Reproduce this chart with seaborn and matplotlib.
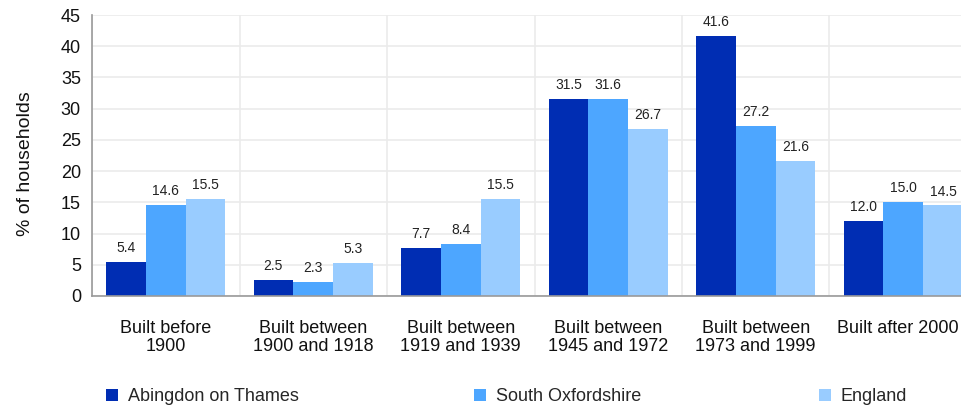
import matplotlib
matplotlib.use("Agg")
import matplotlib.pyplot as plt
import matplotlib.transforms as mtransforms
import seaborn as sns
import pandas as pd
import numpy as np
from matplotlib.patches import Patch

categories = ["Built before\n1900", "Built between\n1900 and 1918", "Built between\n1919 and 1939",
              "Built between\n1945 and 1972", "Built between\n1973 and 1999", "Built after 2000"]
series = ["Abingdon on Thames", "South Oxfordshire", "England"]
abingdon = [5.4, 2.5, 7.7, 31.5, 41.6, 12.0]
south_oxon = [14.6, 2.3, 8.4, 31.6, 27.2, 15.0]
england = [15.5, 5.3, 15.5, 26.7, 21.6, 14.5]
colors = ["#002db3", "#4da6ff", "#99ccff"]

rows = []
for name, vals in zip(series, [abingdon, south_oxon, england]):
    for c, v in zip(categories, vals):
        rows.append({"category": c, "series": name, "value": v})
df = pd.DataFrame(rows)

sns.set_style("white")
plt.rcParams['font.family'] = ['Liberation Sans', 'DejaVu Sans']

fig = plt.figure(figsize=(9.62, 4.09), dpi=100)
ax = fig.add_axes([92/962, 1-296/409, (977-92)/962, (296-15)/409])

sns.barplot(data=df, x="category", y="value", hue="series", palette=colors,
            width=0.81, gap=0, saturation=1, ax=ax, legend=False, errorbar=None,
            order=categories, hue_order=series, linewidth=0, edgecolor="none")

for cont in ax.containers:
    ax.bar_label(cont, fmt="%.1f", padding=5, fontsize=10, color="#222222")

ax.set_xlim(-0.5, 5.5)
ax.set_ylim(0, 45)
ax.set_yticks(np.arange(0, 46, 5))
ax.set_xticks(range(len(categories)))
ax.set_xticklabels(categories, fontsize=13, color="#111111", linespacing=1.1)
ax.set_xticks(np.arange(-0.5, 6.0, 1.0), minor=True)
ax.tick_params(axis='x', which='major', length=0, pad=17)
ax.tick_params(axis='x', which='minor', length=5, color="#999999", width=1)
ax.tick_params(axis='y', labelsize=13, length=5, color="#999999", width=1, labelcolor="#111111", pad=3)
ax.set_xlabel("")
ax.set_ylabel("% of households", fontsize=14, color="#111111")
ax.yaxis.set_label_coords(-0.065, 0.47)

# nudge the last category label left so it fits inside the figure, as in the reference
last = ax.get_xticklabels()[-1]
last.set_transform(last.get_transform() + mtransforms.ScaledTranslation(-5/100, 0, fig.dpi_scale_trans))

ax.grid(True, axis='y', color="#ebebeb", linewidth=1.2)
ax.grid(True, axis='x', which='minor', color="#ebebeb", linewidth=1.2)
ax.set_axisbelow(True)
for s in ["top", "right"]:
    ax.spines[s].set_visible(False)
for s in ["left", "bottom"]:
    ax.spines[s].set_color("#999999")
    ax.spines[s].set_linewidth(1.2)

handles = [Patch(facecolor=c, edgecolor='none') for c in colors]
xs = [106/962, 474/962, 819/962]
for h, name, x in zip(handles, series, xs):
    fig.legend([h], [name], loc="upper left", bbox_to_anchor=(x, 1-388/409), frameon=False,
               fontsize=13, handlelength=0.65, handleheight=0.65, handletextpad=0.55,
               borderpad=0, borderaxespad=0)

fig.savefig("out.png", dpi=100)
